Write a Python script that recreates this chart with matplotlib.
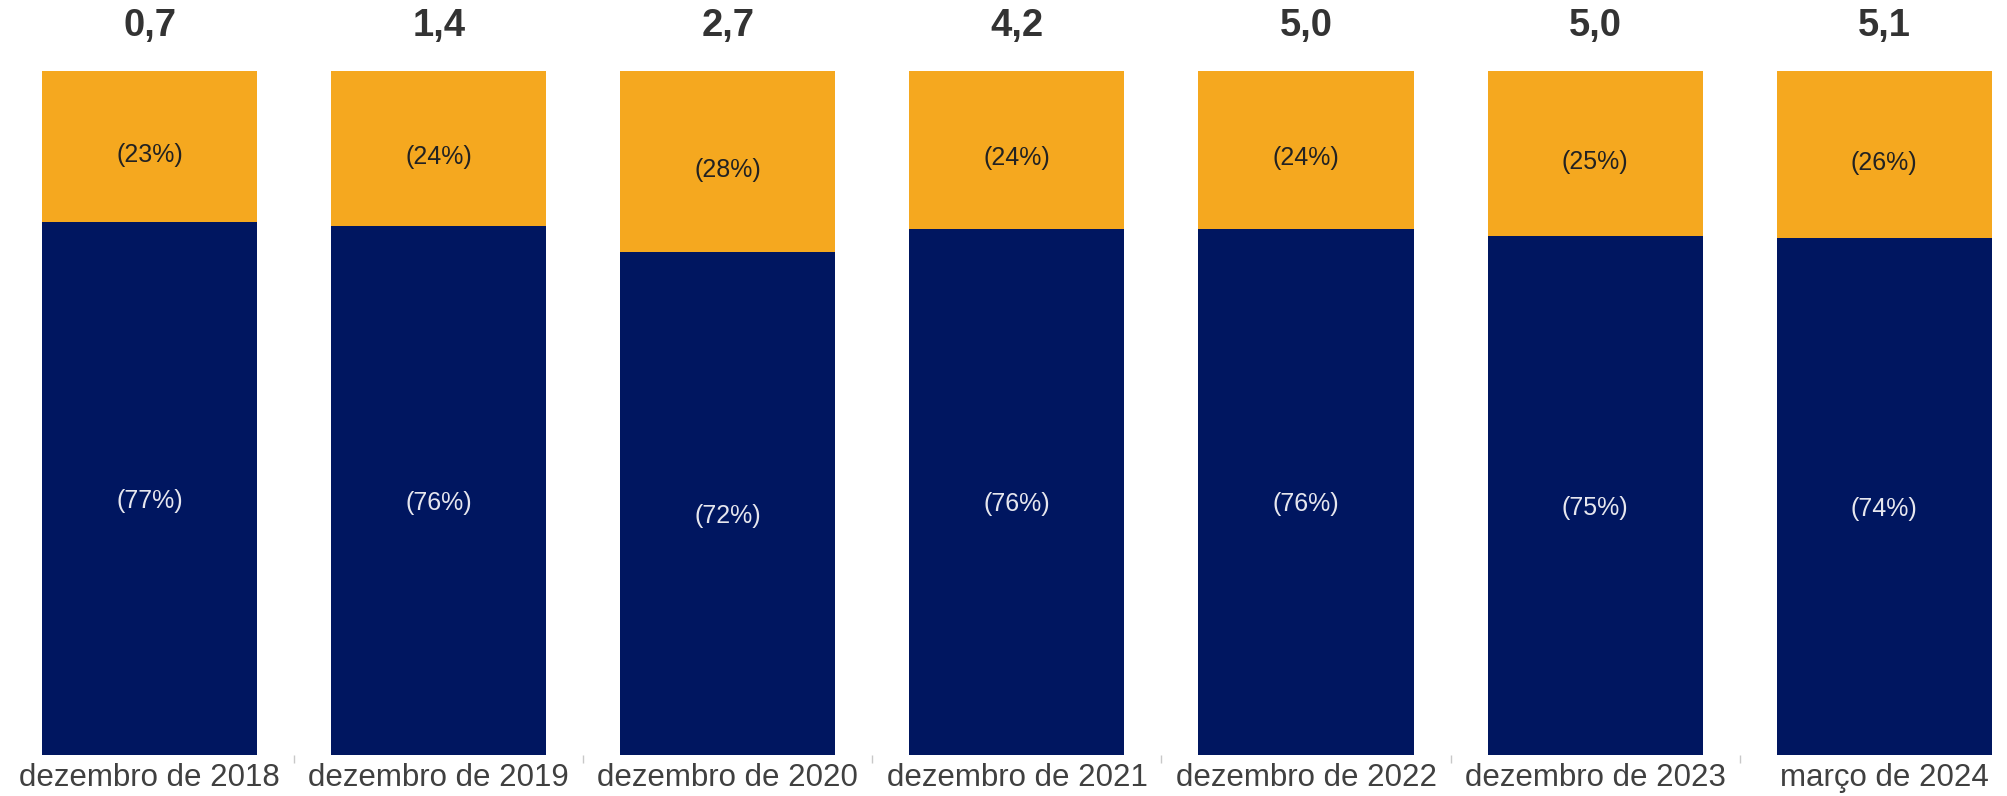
import matplotlib
matplotlib.use('Agg')
import matplotlib.pyplot as plt

# data
periods = ['dezembro de 2018', 'dezembro de 2019', 'dezembro de 2020', 'dezembro de 2021',
           'dezembro de 2022', 'dezembro de 2023', 'março de 2024']
totals = ['0,7', '1,4', '2,7', '4,2', '5,0', '5,0', '5,1']
blue_share = [77.9, 77.3, 73.5, 76.9, 76.9, 75.8, 75.5]
orange_share = [22.1, 22.7, 26.5, 23.1, 23.1, 24.2, 24.5]
blue_labels = ['(77%)', '(76%)', '(72%)', '(76%)', '(76%)', '(75%)', '(74%)']
orange_labels = ['(23%)', '(24%)', '(28%)', '(24%)', '(24%)', '(25%)', '(26%)']

NAVY = '#001660'
ORANGE = '#F5A81F'

plt.rcParams['font.family'] = ['Liberation Sans', 'DejaVu Sans']

fig = plt.figure(figsize=(20.07, 7.96), dpi=100)
ax = fig.add_axes([0, 0.0515, 1, 0.8597])

x = list(range(len(periods)))
ax.bar(x, blue_share, width=0.744, color=NAVY, edgecolor='none')
ax.bar(x, orange_share, bottom=blue_share, width=0.744, color=ORANGE, edgecolor='none')

for i in x:
    b = blue_share[i]
    o = orange_share[i]
    ax.annotate(blue_labels[i], (i, b / 2), xytext=(0, -9), textcoords='offset points',
                ha='center', va='center', fontsize=18, color='#E6E6EE')
    ax.annotate(orange_labels[i], (i, b + o / 2), xytext=(0, -6), textcoords='offset points',
                ha='center', va='center', fontsize=18, color='#222222')
    ax.text(i, 106.5, totals[i], ha='center', va='center', fontsize=27.5,
            fontweight='bold', color='#333333', clip_on=False)

ax.set_xlim(-0.518, 6.425)
ax.set_ylim(0, 100)

ax.set_xticks(x)
ax.set_xticklabels(periods, fontsize=22.5, color='#404040')
ax.tick_params(axis='x', which='major', length=0, pad=6)
ax.set_xticks([i + 0.5 for i in x[:-1]], minor=True)
ax.tick_params(axis='x', which='minor', length=6, color='#C8C8C8', width=1)
ax.set_yticks([])
for s in ax.spines.values():
    s.set_visible(False)

fig.savefig('out.png', dpi=100)
